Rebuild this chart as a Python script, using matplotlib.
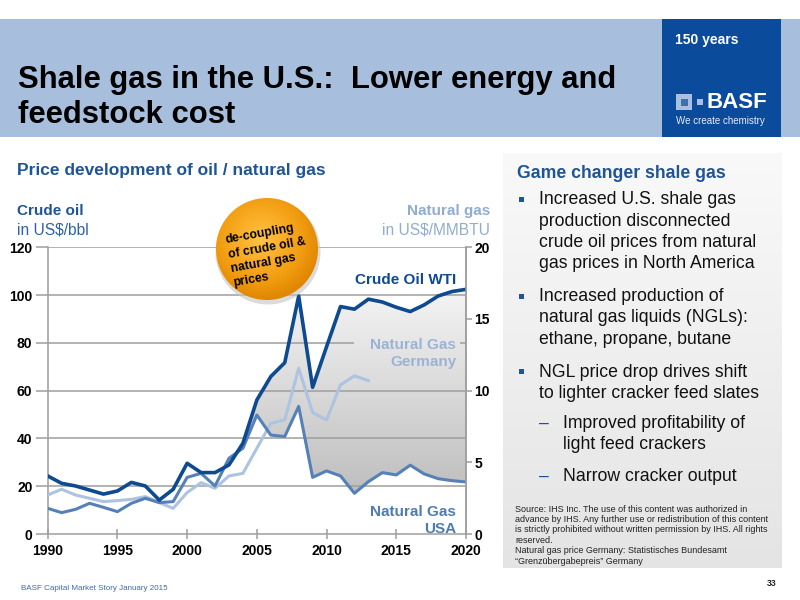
import numpy as np
import matplotlib.pyplot as plt
from matplotlib.colors import LinearSegmentedColormap
from matplotlib.patches import Rectangle, Circle

plt.rcParams['font.family'] = ['Liberation Sans', 'DejaVu Sans']

# data
years = list(range(1990, 2021))
crude_oil = [24.3, 21.2, 20.1, 18.4, 16.7, 18.0, 21.6, 20.1, 14.2, 18.7,
             29.6, 25.7, 25.7, 28.9, 38.0, 56.1, 65.9, 71.7, 99.6, 61.4,
             78.4, 95.2, 94.1, 98.3, 97.1, 94.9, 93.1, 95.9, 99.6, 101.5, 102.4]
gas_usa = [1.79, 1.49, 1.72, 2.14, 1.86, 1.56, 2.14, 2.49, 2.19, 2.26,
           3.95, 4.23, 3.35, 5.28, 5.98, 8.30, 6.90, 6.80, 8.90, 3.95,
           4.40, 4.05, 2.84, 3.65, 4.28, 4.12, 4.80, 4.19, 3.86, 3.72, 3.63]
years_de = list(range(1990, 2014))
gas_germany = [2.72, 3.12, 2.72, 2.49, 2.26, 2.33, 2.42, 2.61, 2.19, 1.79,
               2.89, 3.58, 3.19, 4.05, 4.23, 5.98, 7.72, 7.96, 11.56, 8.47,
               7.96, 10.40, 11.03, 10.70]
left_ticks = [0, 20, 40, 60, 80, 100, 120]
right_ticks = [0, 5, 10, 15, 20]
x_ticks = [1990, 1995, 2000, 2005, 2010, 2015, 2020]
fill_from = 2004

bullets = [
    ["Increased U.S. shale gas", "production disconnected",
     "crude oil prices from natural", "gas prices in North America"],
    ["Increased production of", "natural gas liquids (NGLs):",
     "ethane, propane, butane"],
    ["NGL price drop drives shift", "to lighter cracker feed slates"],
]
sub_bullets = [["Improved profitability of", "light feed crackers"],
               ["Narrow cracker output"]]
source_lines = [
    "Source: IHS Inc. The use of this content was authorized in",
    "advance by IHS. Any further use or redistribution of this content",
    "is strictly prohibited without written permission by IHS. All rights",
    "reserved.",
    "Natural gas price Germany: Statistisches Bundesamt",
    "\u201cGrenz\u00fcbergabepreis\u201d Germany",
]

DARK = '#0d4a8f'
MID = '#5580b8'
LIGHT = '#adc3df'
HEAD = '#1f5497'

W, H = 800, 600
fig = plt.figure(figsize=(8, 6), dpi=100)

# background layer in pixel coordinates
bg = fig.add_axes([0, 0, 1, 1], zorder=0)
bg.set_xlim(0, W)
bg.set_ylim(H, 0)
bg.axis('off')

bg.add_patch(Rectangle((0, 19), W, 118, color='#a7bfdc', lw=0))
bg.add_patch(Rectangle((662, 19), 119, 118, color='#0b4b9c', lw=0))
bg.text(18, 88, "Shale gas in the U.S.:  Lower energy and", fontsize=22.3,
        fontweight='bold', va='baseline', color='black')
bg.text(18, 123, "feedstock cost", fontsize=22.3, fontweight='bold',
        va='baseline', color='black')
bg.text(675, 40, "150 years", fontsize=10, fontweight='bold', color='white',
        va='center')
bg.add_patch(Rectangle((676, 94), 16, 16, color='#a9c0de', lw=0))
bg.add_patch(Rectangle((680.5, 98.5), 7, 7, color='#3f6fb0', lw=0))
bg.add_patch(Rectangle((697, 99), 6, 6, color='#a9c0de', lw=0))
bg.text(706, 103, "BASF", fontsize=16, fontweight='bold', color='white',
        va='center')
bg.text(676, 121, "We create chemistry", fontsize=7, color='#e6edf7',
        va='center')

# right panel with soft gradient
grad = np.linspace(0, 1, 256).reshape(-1, 1)
panel_cmap = LinearSegmentedColormap.from_list('panel', ['#f9f9f9', '#e4e4e4'])
bg.imshow(grad, cmap=panel_cmap, extent=[503, 782, 568, 153], aspect='auto',
          zorder=0.5)

bg.text(517, 174, "Game changer shale gas", fontsize=12.7, fontweight='bold',
        color=HEAD, va='center')
line_h = 21.2
y = 200
for group in bullets:
    bg.add_patch(Rectangle((519, y - 3), 5, 5, color=HEAD, lw=0))
    for line in group:
        bg.text(539, y, line, fontsize=12.7, color='#111111', va='center')
        y += line_h
    y += 12
y = 423
for group in sub_bullets:
    bg.text(539, y, "\u2013", fontsize=12.7, color=HEAD, va='center')
    for line in group:
        bg.text(563, y, line, fontsize=12.7, color='#111111', va='center')
        y += line_h
    y += 11

for i, line in enumerate(source_lines):
    bg.text(515, 509 + i * 10.4, line, fontsize=6.5, color='#222222',
            va='center')

bg.text(21, 589, "BASF Capital Market Story January 2015", fontsize=5.8,
        color='#3e6aa8', va='center')
bg.text(777, 584, "33", fontsize=6.3, fontweight='bold', color='#222222',
        va='center', ha='right')

bg.text(17, 171, "Price development of oil / natural gas", fontsize=12.5,
        fontweight='bold', color=HEAD, va='center')
bg.text(17, 211, "Crude oil", fontsize=11, fontweight='bold', color=HEAD,
        va='center')
bg.text(17, 230, "in US$/bbl", fontsize=11.2, color='#2e62a6', va='center')
bg.text(490, 211, "Natural gas", fontsize=11, fontweight='bold',
        color='#90acd2', va='center', ha='right')
bg.text(490, 230, "in US$/MMBTU", fontsize=11.2, color='#90acd2',
        va='center', ha='right')

# chart
x0, x1, ytop, ybot = 47.7, 466, 247.3, 534
ax = fig.add_axes([x0 / W, 1 - ybot / H, (x1 - x0) / W, (ybot - ytop) / H],
                  zorder=1)
ax.patch.set_alpha(0)
ax.set_xlim(1990, 2020)
ax.set_ylim(0, 120)

scale = 120 / 20
usa_left = np.array(gas_usa) * scale
de_left = np.array(gas_germany) * scale
yrs = np.array(years)
mask = yrs >= fill_from

poly = ax.fill_between(yrs[mask], usa_left[mask], np.array(crude_oil)[mask],
                       color='none', lw=0)
fill_cmap = LinearSegmentedColormap.from_list('fill', ['#bdbdbd', '#f6f6f6'])
im = ax.imshow(np.linspace(0, 1, 256).reshape(-1, 1), cmap=fill_cmap,
               origin='lower', extent=[fill_from, 2020, 15, 105],
               aspect='auto', zorder=1)
im.set_clip_path(poly.get_paths()[0], transform=ax.transData)
ax.set_xlim(1990, 2020)
ax.set_ylim(0, 120)

for v in left_ticks[1:]:
    ax.axhline(v, color='#9e9e9e', lw=1.1, zorder=1.5)
# the label sits on the fill and hides the 80 gridline behind it
ax.add_patch(Rectangle((2012.0, 79.0), 7.6, 2.0, color='#e6e6e6', lw=0,
                       zorder=1.6))

ax.plot(years_de, de_left, color=LIGHT, lw=2.2, zorder=3,
        solid_joinstyle='round')
ax.plot(years, usa_left, color=MID, lw=2.2, zorder=3.5,
        solid_joinstyle='round')
ax.plot(years, crude_oil, color=DARK, lw=2.6, zorder=4,
        solid_joinstyle='round')

ax.spines['top'].set_visible(False)
for s in ['left', 'bottom', 'right']:
    ax.spines[s].set_color('#9e9e9e')
    ax.spines[s].set_linewidth(1.1)

ax.set_yticks(left_ticks)
ax.set_xticks(x_ticks)
ax.tick_params(axis='y', length=9, width=1.1, color='#9e9e9e', pad=2,
               labelsize=10)
ax.tick_params(axis='x', direction='inout', length=7, width=1.1,
               color='#9e9e9e', pad=4, labelsize=10)
for lab in ax.get_xticklabels() + ax.get_yticklabels():
    lab.set_fontweight('bold')

ax2 = ax.twinx()
ax2.set_ylim(0, 20)
ax2.set_yticks(right_ticks)
ax2.tick_params(axis='y', length=4, width=1.1, color='#9e9e9e', pad=2,
                labelsize=10)
for lab in ax2.get_yticklabels():
    lab.set_fontweight('bold')
for s in ['top', 'left', 'bottom']:
    ax2.spines[s].set_visible(False)
ax2.spines['right'].set_color('#9e9e9e')
ax2.spines['right'].set_linewidth(1.1)

ax.text(2019.3, 106.5, "Crude Oil WTI", fontsize=11, fontweight='bold',
        color=DARK, ha='right', va='center', zorder=5)
ax.text(2019.3, 75.5, "Natural Gas\nGermany", fontsize=11, fontweight='bold',
        color='#9cb3d5', ha='right', va='center', zorder=5,
        linespacing=1.25)
ax.text(2019.3, 5.5, "Natural Gas\nUSA", fontsize=11, fontweight='bold',
        color='#4f7bb4', ha='right', va='center', zorder=5,
        linespacing=1.25)

# foreground bubble
fg = fig.add_axes([0, 0, 1, 1], zorder=3)
fg.set_xlim(0, W)
fg.set_ylim(H, 0)
fg.axis('off')
fg.patch.set_alpha(0)
cx, cy, r = 267, 249, 51
fg.add_patch(Circle((cx + 1, cy + 3), r + 1.5, color='#c4c4c4', alpha=0.6,
                    lw=0, zorder=0.5))
gx, gy = np.meshgrid(np.linspace(cx - r, cx + r, 200),
                     np.linspace(cy - r, cy + r, 200))
dist = np.hypot(gx - (cx - 6), gy - (cy - 10)) / (r * 1.2)
bub_cmap = LinearSegmentedColormap.from_list(
    'bub', ['#ffc446', '#fbb02a', '#f29e12', '#e08600'])
bim = fg.imshow(np.clip(dist, 0, 1), cmap=bub_cmap,
                extent=[cx - r, cx + r, cy + r, cy - r], aspect='auto',
                zorder=1)
circ = Circle((cx, cy), r, transform=fg.transData)
bim.set_clip_path(circ)
fg.set_xlim(0, W)
fg.set_ylim(H, 0)
fg.text(cx + 1, cy + 6, "de-coupling\nof crude oil &\nnatural gas\nprices",
        fontsize=8.8, fontweight='bold', color='black', ha='center',
        va='center', multialignment='left', rotation=10,
        rotation_mode='anchor', linespacing=1.3, zorder=2)

fig.savefig('out.png', dpi=100)
